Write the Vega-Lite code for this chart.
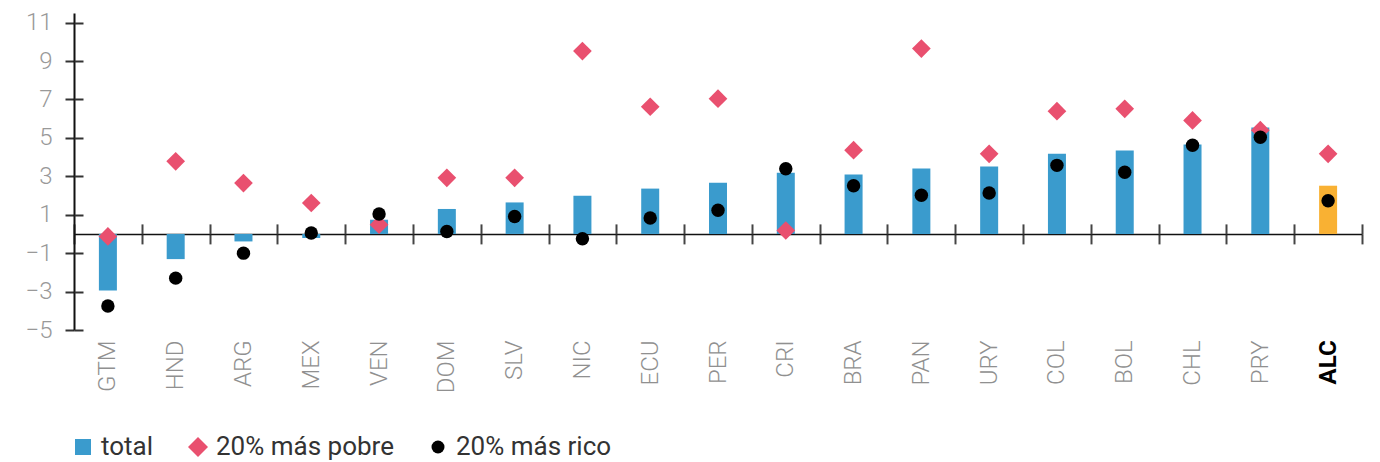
{
  "$schema": "https://vega.github.io/schema/vega-lite/v6.json",
  "autosize": "none",
  "padding": {"left": 74, "top": 13, "right": 18, "bottom": 132},
  "width": 1288,
  "height": 317,
  "config": {"view": {"stroke": null}, "font": "Roboto"},
  "data": {
    "values": [
      {"pais": "GTM", "serie": "total", "valor": -2.95},
      {"pais": "GTM", "serie": "20% más pobre", "valor": -0.13},
      {"pais": "GTM", "serie": "20% más rico", "valor": -3.75},
      {"pais": "HND", "serie": "total", "valor": -1.31},
      {"pais": "HND", "serie": "20% más pobre", "valor": 3.78},
      {"pais": "HND", "serie": "20% más rico", "valor": -2.3},
      {"pais": "ARG", "serie": "total", "valor": -0.39},
      {"pais": "ARG", "serie": "20% más pobre", "valor": 2.65},
      {"pais": "ARG", "serie": "20% más rico", "valor": -1.0},
      {"pais": "MEX", "serie": "total", "valor": -0.21},
      {"pais": "MEX", "serie": "20% más pobre", "valor": 1.61},
      {"pais": "MEX", "serie": "20% más rico", "valor": 0.05},
      {"pais": "VEN", "serie": "total", "valor": 0.74},
      {"pais": "VEN", "serie": "20% más pobre", "valor": 0.48},
      {"pais": "VEN", "serie": "20% más rico", "valor": 1.04},
      {"pais": "DOM", "serie": "total", "valor": 1.3},
      {"pais": "DOM", "serie": "20% más pobre", "valor": 2.92},
      {"pais": "DOM", "serie": "20% más rico", "valor": 0.13},
      {"pais": "SLV", "serie": "total", "valor": 1.64},
      {"pais": "SLV", "serie": "20% más pobre", "valor": 2.92},
      {"pais": "SLV", "serie": "20% más rico", "valor": 0.91},
      {"pais": "NIC", "serie": "total", "valor": 1.99},
      {"pais": "NIC", "serie": "20% más pobre", "valor": 9.52},
      {"pais": "NIC", "serie": "20% más rico", "valor": -0.25},
      {"pais": "ECU", "serie": "total", "valor": 2.36},
      {"pais": "ECU", "serie": "20% más pobre", "valor": 6.62},
      {"pais": "ECU", "serie": "20% más rico", "valor": 0.83},
      {"pais": "PER", "serie": "total", "valor": 2.67},
      {"pais": "PER", "serie": "20% más pobre", "valor": 7.04},
      {"pais": "PER", "serie": "20% más rico", "valor": 1.23},
      {"pais": "CRI", "serie": "total", "valor": 3.19},
      {"pais": "CRI", "serie": "20% más pobre", "valor": 0.18},
      {"pais": "CRI", "serie": "20% más rico", "valor": 3.39},
      {"pais": "BRA", "serie": "total", "valor": 3.09},
      {"pais": "BRA", "serie": "20% más pobre", "valor": 4.36},
      {"pais": "BRA", "serie": "20% más rico", "valor": 2.51},
      {"pais": "PAN", "serie": "total", "valor": 3.4},
      {"pais": "PAN", "serie": "20% más pobre", "valor": 9.65},
      {"pais": "PAN", "serie": "20% más rico", "valor": 2.01},
      {"pais": "URY", "serie": "total", "valor": 3.51},
      {"pais": "URY", "serie": "20% más pobre", "valor": 4.17},
      {"pais": "URY", "serie": "20% más rico", "valor": 2.13},
      {"pais": "COL", "serie": "total", "valor": 4.18},
      {"pais": "COL", "serie": "20% más pobre", "valor": 6.39},
      {"pais": "COL", "serie": "20% más rico", "valor": 3.57},
      {"pais": "BOL", "serie": "total", "valor": 4.34},
      {"pais": "BOL", "serie": "20% más pobre", "valor": 6.51},
      {"pais": "BOL", "serie": "20% más rico", "valor": 3.21},
      {"pais": "CHL", "serie": "total", "valor": 4.65},
      {"pais": "CHL", "serie": "20% más pobre", "valor": 5.91},
      {"pais": "CHL", "serie": "20% más rico", "valor": 4.62},
      {"pais": "PRY", "serie": "total", "valor": 5.54},
      {"pais": "PRY", "serie": "20% más pobre", "valor": 5.4},
      {"pais": "PRY", "serie": "20% más rico", "valor": 5.03},
      {"pais": "ALC", "serie": "total", "valor": 2.51},
      {"pais": "ALC", "serie": "20% más pobre", "valor": 4.17},
      {"pais": "ALC", "serie": "20% más rico", "valor": 1.73}
    ]
  },
  "resolve": {"axis": {"x": "independent", "y": "independent"}},
  "layer": [
    {
      "transform": [{"filter": "datum.serie === 'total'"}],
      "mark": {"type": "bar", "width": 18},
      "encoding": {
        "x": {
          "field": "pais", "type": "nominal", "sort": null,
          "scale": {"paddingInner": 0, "paddingOuter": 0},
          "axis": {
            "orient": "bottom", "offset": -96.1, "title": null,
            "domainColor": "#111", "domainWidth": 1.5,
            "tickBand": "extent", "tickSize": 10, "tickColor": "#444", "tickWidth": 2,
            "labelAngle": -90, "labelPadding": 96, "labelFontSize": 24, "labelFont": "Roboto",
            "labelColor": {"condition": {"test": "datum.value === 'ALC'", "value": "#000000"}, "value": "#909090"},
            "labelFontWeight": {"condition": {"test": "datum.value === 'ALC'", "value": "bold"}, "value": 300},
            "grid": false
          }
        },
        "y": {
          "field": "valor", "type": "quantitative",
          "scale": {"domain": [-5, 11.5], "nice": false, "zero": false},
          "axis": {
            "orient": "left", "title": null, "values": [-5, -3, -1, 1, 3, 5, 7, 9, 11],
            "domainColor": "#111", "domainWidth": 2,
            "tickColor": "#333", "tickWidth": 2, "tickSize": 9,
            "labelPadding": 13, "labelFontSize": 24, "labelColor": "#999999", "labelFontWeight": 300,
            "labelFont": "Roboto", "grid": false
          }
        },
        "color": {"condition": {"test": "datum.pais === 'ALC'", "value": "#F9B133"}, "value": "#3A9BCD"}
      }
    },
    {
      "transform": [{"filter": "datum.serie !== 'total'"}],
      "mark": {"type": "point", "filled": true, "opacity": 1, "strokeWidth": 0},
      "encoding": {
        "x": {
          "field": "pais", "type": "nominal", "sort": null,
          "axis": {
            "orient": "top", "offset": -220.9, "title": null, "domain": false, "labels": false,
            "tickBand": "extent", "tickSize": 10, "tickColor": "#444", "tickWidth": 2, "grid": false
          }
        },
        "y": {
          "field": "valor", "type": "quantitative",
          "axis": {
            "orient": "right", "offset": -1288, "title": null, "domain": false, "labels": false,
            "values": [-5, -3, -1, 1, 3, 5, 7, 9, 11],
            "tickSize": 9, "tickColor": "#333", "tickWidth": 2, "grid": false
          }
        },
        "color": {
          "field": "serie", "type": "nominal",
          "scale": {"domain": ["total", "20% más pobre", "20% más rico"], "range": ["#3A9BCD", "#E9506F", "#000000"]},
          "legend": {
            "orient": "none", "legendX": -4, "legendY": 421, "direction": "horizontal", "title": null,
            "labelFontSize": 26, "labelColor": "#333333", "labelFont": "Roboto", "labelOffset": 5,
            "labelLimit": 500, "columnPadding": 31, "symbolStrokeWidth": 0, "symbolOpacity": 1,
            "encode": {"symbols": {"update": {
              "fill": {"signal": "datum.value === 'total' ? '#0E99D6' : datum.value === '20% más pobre' ? '#E91E4F' : '#000000'"},
              "size": {"signal": "datum.value === 'total' ? 256 : datum.value === '20% más pobre' ? 400 : 169"}
            }}}
          }
        },
        "shape": {
          "field": "serie", "type": "nominal",
          "scale": {"domain": ["total", "20% más pobre", "20% más rico"], "range": ["square", "diamond", "circle"]}
        },
        "size": {"condition": {"test": "datum.serie === '20% más rico'", "value": 180}, "value": 350}
      }
    }
  ]
}
